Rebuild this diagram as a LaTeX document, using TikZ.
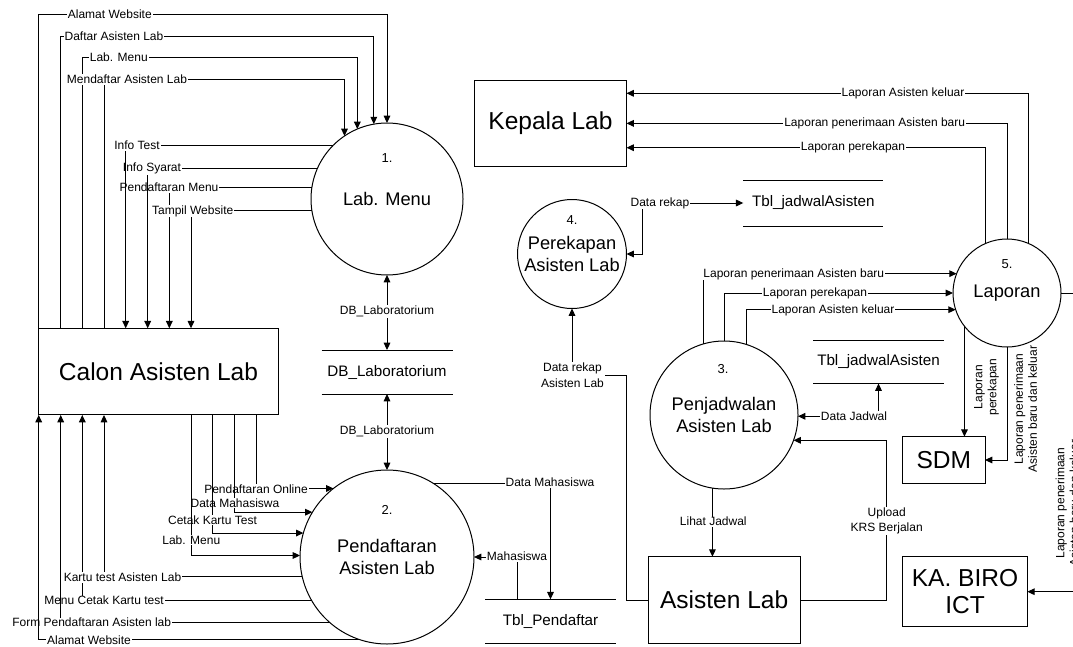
\documentclass[tikz,border=0pt]{standalone}
\usepackage{fontspec}
\setmainfont{Liberation Sans}
\usetikzlibrary{arrows.meta}
\begin{document}
\begin{tikzpicture}[x=0.75pt,y=-0.75pt,line width=0.75pt,
  ent/.style={draw, rectangle, inner sep=0pt, outer sep=0pt, font=\fontsize{18.4}{20.3}\selectfont, align=center},
  proc/.style={draw, circle, inner sep=0pt, outer sep=0pt, font=\fontsize{13.7}{16.2}\selectfont, align=center},
  num/.style={font=\fontsize{9.75}{11}\selectfont, inner sep=0pt},
  store/.style={inner sep=0pt, outer sep=0pt, font=\fontsize{11.4}{13}\selectfont},
  lbl/.style={fill=white, inner xsep=0.8pt, inner ysep=0.6pt, font=\fontsize{9}{11.5}\selectfont, align=center},
  rlbl/.style={rotate=90, inner sep=0pt, font=\fontsize{9}{10.5}\selectfont, align=center},
  arr/.style={-{Triangle[length=5.5pt,width=5pt]}},
  barr/.style={{Triangle[length=5.5pt,width=5pt]}-{Triangle[length=5.5pt,width=5pt]}},
]
\useasboundingbox (0,0) rectangle (1073,646);

% external entities
\node[ent, minimum width=179.7pt, minimum height=65pt] (calon) at (158.5,371.65) {Calon Asisten Lab};
\node[ent, minimum width=114pt, minimum height=65pt] (kepala) at (550.5,123.35) {Kepala Lab};
\node[ent, minimum width=113.8pt, minimum height=65pt] (asisten) at (724.15,600) {Asisten Lab};
\node[ent, minimum width=61.7pt, minimum height=35pt] (sdm) at (943.85,460) {SDM};
\node[ent, minimum width=93.5pt, minimum height=52.5pt] (kabiro) at (965,591.7) {KA. BIRO\\ICT};

% processes
\node[proc, minimum size=114pt] (c1) at (387,199) {Lab. Menu};
\node[num] (n1) at (387,158.3) {1.};
\node[proc, minimum size=130.5pt] (c2) at (387,557) {Pendaftaran\\Asisten Lab};
\node[num] (n2) at (387,510) {2.};
\node[proc, minimum size=111pt] (c3) at (724,415) {Penjadwalan\\Asisten Lab};
\node[num] (n3) at (723,369) {3.};
\node[proc, minimum size=81.75pt] (c4) at (572,254) {Perekapan\\Asisten Lab};
\node[num] (n4) at (572,220) {4.};
\node[proc, minimum size=81pt] (c5) at (1007,293) {Laporan};
\node[num] (n5) at (1007,264) {5.};

% data stores
\node[store, minimum width=98.25pt, minimum height=33pt] (db) at (387,372) {DB\_Laboratorium};
\node[store, minimum width=98.25pt, minimum height=33pt] (tblp) at (550.5,621.3) {Tbl\_Pendaftar};
\node[store, minimum width=105pt, minimum height=34.5pt] (tblj1) at (813.3,203) {Tbl\_jadwalAsisten};
\node[store, minimum width=98.25pt, minimum height=32.25pt] (tblj2) at (878.5,362) {Tbl\_jadwalAsisten};
\foreach \s in {db,tblp,tblj1,tblj2}{
  \draw (\s.north west) -- (\s.north east) (\s.south west) -- (\s.south east);
}

% Calon -> Lab. Menu
\draw[arr] (calon.north west) -- (calon.north west |- 0,14.3) -| (c1.north);
\node[lbl] at (109.8,14.3) {Alamat Website};
\draw[arr] (60.7,0 |- calon.north) -- (60.7,36) -| (c1.100.8);
\node[lbl] at (114,36) {Daftar Asisten Lab};
\draw[arr] (82.3,0 |- calon.north) -- (82.3,57.3) -| (c1.113.5);
\node[lbl] at (118.8,57.3) {Lab. Menu};
\draw[arr] (104,0 |- calon.north) -- (104,79.3) -| (c1.124.2);
\node[lbl] at (127,79.3) {Mendaftar Asisten Lab};

% Lab. Menu -> Calon
\draw[arr] (c1.171.1) -| (169.3,0 |- calon.north);
\node[lbl] at (169,187.3) {Pendaftaran Menu};
\draw[arr] (c1.189.1) -| (191,0 |- calon.north);
\node[lbl] at (192.7,211) {Tampil Website};
\draw[arr] (c1.156.2) -| (147.7,0 |- calon.north);
\node[lbl] at (152,168.3) {Info Syarat};
\draw[arr] (c1.135.5) -| (125.7,0 |- calon.north);
\node[lbl] at (137,145.7) {Info Test};

% Calon -> Pendaftaran
\draw[arr] (256.3,0 |- calon.south) |- (c2.128.9);
\node[lbl] at (256,489.3) {Pendaftaran Online};
\draw[arr] (234.7,0 |- calon.south) |- (c2.149.8);
\node[lbl] at (235,503) {Data Mahasiswa};
\draw[arr] (212.7,0 |- calon.south) |- (c2.164.9);
\node[lbl] at (212.5,520) {Cetak Kartu Test};
\draw[arr] (191,0 |- calon.south) |- (c2.179.1);
\node[lbl] at (191.3,540) {Lab. Menu};

% Pendaftaran -> Calon
\draw[arr] (c2.210.2) -| (82.3,0 |- calon.south);
\node[lbl] at (104,600.7) {Menu Cetak Kartu test};
\draw[arr] (c2.193.5) -| (104,0 |- calon.south);
\node[lbl] at (122.5,577.3) {Kartu test Asisten Lab};
\draw[arr] (c2.229) -| (60.7,0 |- calon.south);
\node[lbl] at (91.7,622.7) {Form Pendaftaran Asisten lab};
\draw[arr] (c2.252.5) -| (calon.south west);
\node[lbl] at (89,640) {Alamat Website};

% DB_Laboratorium
\draw[barr] (c1.south) -- (db.north);
\node[lbl] at (387,311.7) {DB\_Laboratorium};
\draw[barr] (db.south) -- (c2.north);
\node[lbl] at (387,431.7) {DB\_Laboratorium};

% Pendaftaran <-> Tbl_Pendaftar
\draw[arr] (c2.58.6) -| (tblp.north);
\node[lbl] at (550,482.7) {Data Mahasiswa};
\draw[arr] (517.7,0 |- tblp.north) |- (c2.east);
\node[lbl] at (517,556.7) {Mahasiswa};

% Asisten Lab -> Perekapan
\draw[arr] (asisten.west) -- (626,0 |- asisten.west) -- (626,375) -| (c4.south);
\node[lbl] at (572.5,375.3) {Data rekap\\Asisten Lab};

% Perekapan <-> Tbl_jadwalAsisten
\draw[barr] (c4.east) -- (642.7,0 |- c4.east) |- (tblj1.west);
\node[lbl] at (660,203) {Data rekap};

% Penjadwalan <-> Asisten Lab
\draw[arr] (c3.261.7) -- (c3.261.7 |- asisten.north);
\node[lbl] at (713.3,521.7) {Lihat Jadwal};
\draw[arr] (asisten.east) -- (886.7,0 |- asisten.east) |- (c3.340.3);
\node[lbl] at (886.7,521) {Upload\\KRS Berjalan};

% Penjadwalan <-> Tbl_jadwalAsisten
\draw[barr] (tblj2.south) |- (c3.359.2);
\node[lbl] at (854,416) {Data Jadwal};

% Penjadwalan -> Laporan
\draw[arr] (c3.106.7) |- (c5.159.4);
\node[lbl] at (793.8,274) {Laporan penerimaan Asisten baru};
\draw[arr] (c3.north) |- (c5.west);
\node[lbl] at (815,293.3) {Laporan perekapan};
\draw[arr] (c3.72.7) |- (c5.198.4);
\node[lbl] at (833,310) {Laporan Asisten keluar};

% Laporan -> Kepala Lab
\draw[arr] (c5.66.8) |- (kepala.north east |- 0,93.3);
\node[lbl] at (903,93.3) {Laporan Asisten keluar};
\draw[arr] (c5.north) |- (kepala.east);
\node[lbl] at (874.7,123.3) {Laporan penerimaan Asisten baru};
\draw[arr] (c5.113.2) |- (kepala.north east |- 0,147.7);
\node[lbl] at (853,147.7) {Laporan perekapan};

% Laporan -> SDM
\draw[arr] (c5.218.9) -- (c5.218.9 |- sdm.north);
\node[rlbl] at (986.5,387) {Laporan\\perekapan};
\draw[arr] (c5.south) |- (sdm.east);
\node[rlbl] at (1025.5,409) {Laporan penerimaan\\Asisten baru dan keluar};

% Laporan -> KA. BIRO ICT
\draw[arr] (c5.east) -- (1080,0 |- c5.east) |- (kabiro.east);
\node[rlbl] at (1067,503) {Laporan penerimaan\\Asisten baru dan keluar};
\end{tikzpicture}
\end{document}
